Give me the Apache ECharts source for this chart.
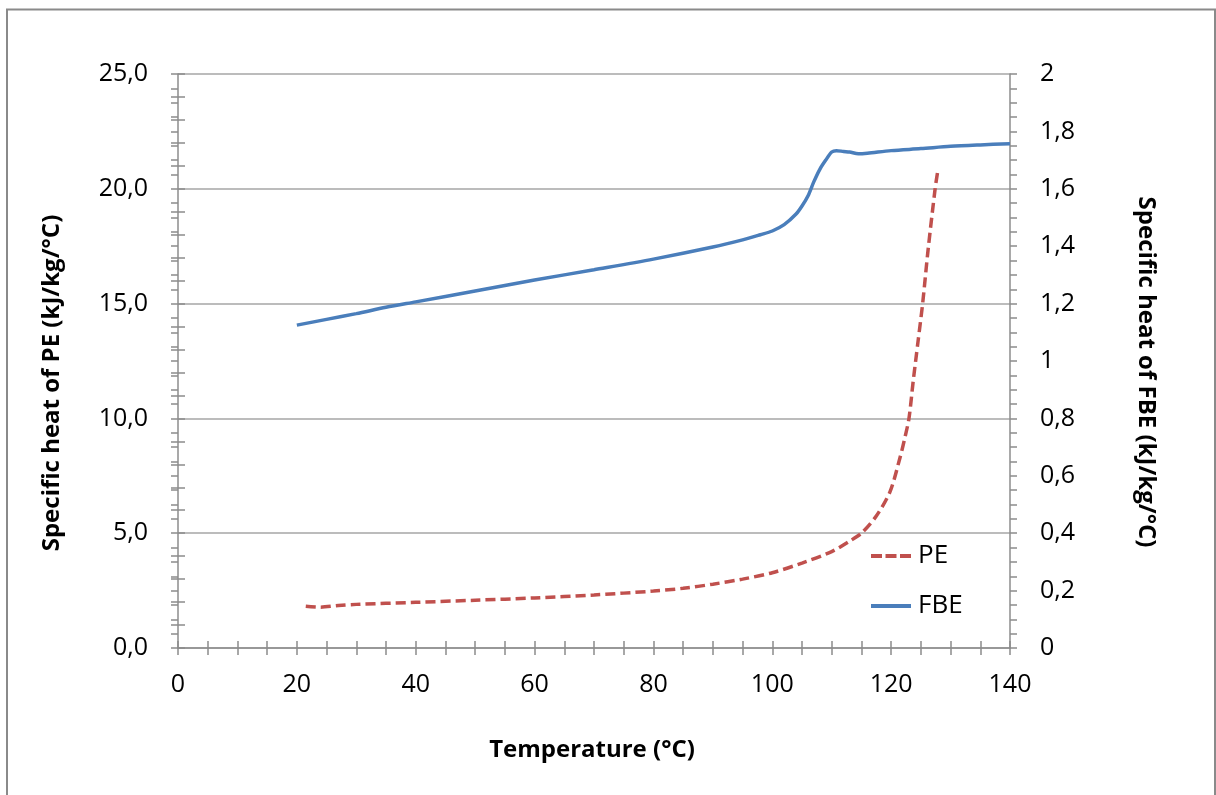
<!DOCTYPE html>
<html>
<head>
<meta charset="utf-8">
<script src="https://cdn.jsdelivr.net/npm/echarts@6/dist/echarts.min.js"></script>
<style>
html,body{margin:0;padding:0;background:#fff;}
#chart{width:1216px;height:795px;}
</style>
</head>
<body>
<div id="chart"></div>
<script>
// Data
const peTemp = [21.5, 24, 27, 30, 40, 50, 60, 70, 80, 85, 90, 95, 100, 105, 110, 113, 115, 117.5, 119.8, 121.5, 122.3, 123, 123.7, 124.5, 125.3, 126.2, 127.4, 127.8];
const peCp   = [1.82, 1.78, 1.85, 1.90, 1.99, 2.08, 2.18, 2.31, 2.48, 2.60, 2.78, 3.00, 3.28, 3.70, 4.20, 4.65, 5.00, 5.75, 6.80, 8.30, 9.15, 10.0, 11.6, 13.3, 15.0, 17.3, 20.0, 20.7];

const fbeTemp = [20, 25, 30, 35, 40, 50, 60, 70, 80, 90, 95, 98, 100, 102, 104, 105, 106, 107, 108, 109, 110, 110.8, 112, 113, 114.5, 116, 120, 125, 130, 135, 140];
const fbeCp   = [1.125, 1.145, 1.165, 1.187, 1.206, 1.244, 1.282, 1.318, 1.355, 1.397, 1.422, 1.440, 1.453, 1.475, 1.512, 1.540, 1.575, 1.625, 1.668, 1.700, 1.728, 1.733, 1.730, 1.728, 1.722, 1.724, 1.733, 1.740, 1.748, 1.753, 1.757];

const seriesNames = ['PE', 'FBE'];
const xTitle = 'Temperature (°C)';
const yLeftTitle = 'Specific heat of PE (kJ/kg/°C)';
const yRightTitle = 'Specific heat of FBE (kJ/kg/°C)';

const FONT = '"Open Sans", "Noto Sans", sans-serif';
const AXIS_COLOR = '#8c8c8c';
const PE_COLOR = '#c0504d';
const FBE_COLOR = '#4a7ebb';
const grid = {left: 178, right: 206, top: 74, bottom: 147};

function zip(a, b) { return a.map((v, i) => [v, b[i]]); }

const chart = echarts.init(document.getElementById('chart'), null, {renderer: 'canvas'});

const leftLabel = v => v.toFixed(1).replace('.', ',');
const rightLabel = v => String(+v.toFixed(1)).replace('.', ',');

const tickStyle = {color: AXIS_COLOR, width: 1.5};

chart.setOption({
  animation: false,
  backgroundColor: '#fff',
  grid: grid,
  graphic: [
    {type: 'rect', shape: {x: 7, y: 9.5, width: 1208, height: 800}, style: {fill: 'none', stroke: '#8a8a8a', lineWidth: 2}, silent: true},
    {type: 'text', x: 52, y: 383, rotation: Math.PI / 2, style: {text: yLeftTitle, font: 'bold 24px ' + FONT, fill: '#000', textAlign: 'center', textVerticalAlign: 'middle'}},
    {type: 'text', x: 1146, y: 372, rotation: -Math.PI / 2, style: {text: yRightTitle, font: 'bold 24px ' + FONT, fill: '#000', textAlign: 'center', textVerticalAlign: 'middle'}},
    {type: 'text', x: 592, y: 750, style: {text: xTitle, font: 'bold 24px ' + FONT, fill: '#000', textAlign: 'center', textVerticalAlign: 'middle'}}
  ],
  legend: {
    orient: 'vertical',
    left: 866,
    top: 538,
    itemWidth: 40,
    itemHeight: 4,
    itemGap: 24,
    data: [
      {name: seriesNames[0], icon: 'path://M0,0h11v4h-11z M14.5,0h11v4h-11z M29,0h11v4h-11z', itemStyle: {color: PE_COLOR}},
      {name: seriesNames[1], icon: 'path://M0,0h40v4h-40z', itemStyle: {color: FBE_COLOR}}
    ],
    textStyle: {fontFamily: FONT, fontSize: 26, color: '#000', padding: [0, 0, 0, 2]}
  },
  xAxis: [
    {
      type: 'value', min: 0, max: 140, interval: 20,
      axisLine: {show: true, onZero: false, lineStyle: {color: AXIS_COLOR, width: 1.5}},
      axisTick: {show: true, length: 7, lineStyle: tickStyle},
      minorTick: {show: true, splitNumber: 4, length: 7, lineStyle: tickStyle},
      splitLine: {show: false},
      axisLabel: {margin: 24, fontFamily: FONT, fontSize: 25, color: '#000'}
    },
    {
      type: 'value', min: 0, max: 140, interval: 20, position: 'bottom',
      axisLine: {show: false},
      axisTick: {show: true, inside: true, length: 7, lineStyle: tickStyle},
      minorTick: {show: true, splitNumber: 4, length: 7, lineStyle: tickStyle},
      splitLine: {show: false},
      axisLabel: {show: false}
    }
  ],
  yAxis: [
    {
      type: 'value', min: 0, max: 25, interval: 5, position: 'left',
      axisLine: {show: true, onZero: false, lineStyle: {color: AXIS_COLOR, width: 1.5}},
      axisTick: {show: true, length: 7, lineStyle: tickStyle},
      minorTick: {show: true, splitNumber: 5, length: 7, lineStyle: tickStyle},
      splitLine: {show: true, lineStyle: {color: '#a6a6a6', width: 1.5}},
      axisLabel: {margin: 30, fontFamily: FONT, fontSize: 25, color: '#000', formatter: leftLabel}
    },
    {
      type: 'value', min: 0, max: 2, interval: 0.2, position: 'right',
      axisLine: {show: true, onZero: false, lineStyle: {color: AXIS_COLOR, width: 1.5}},
      axisTick: {show: true, length: 7, lineStyle: tickStyle},
      minorTick: {show: true, splitNumber: 4, length: 7, lineStyle: tickStyle},
      splitLine: {show: false},
      axisLabel: {margin: 30, fontFamily: FONT, fontSize: 25, color: '#000', formatter: rightLabel}
    },
    {
      type: 'value', min: 0, max: 25, interval: 5, position: 'left',
      axisLine: {show: false},
      axisTick: {show: true, inside: true, length: 7, lineStyle: tickStyle},
      minorTick: {show: true, splitNumber: 5, length: 7, lineStyle: tickStyle},
      splitLine: {show: false},
      axisLabel: {show: false}
    },
    {
      type: 'value', min: 0, max: 2, interval: 0.2, position: 'right',
      axisLine: {show: false},
      axisTick: {show: true, inside: true, length: 7, lineStyle: tickStyle},
      minorTick: {show: true, splitNumber: 4, length: 7, lineStyle: tickStyle},
      splitLine: {show: false},
      axisLabel: {show: false}
    }
  ],
  series: [
    {
      name: seriesNames[0],
      type: 'line',
      xAxisIndex: 0,
      yAxisIndex: 0,
      data: zip(peTemp, peCp),
      smooth: 0.3,
      showSymbol: false,
      symbol: 'none',
      color: PE_COLOR,
      lineStyle: {color: PE_COLOR, width: 3.5, type: [10, 5]},
      z: 3
    },
    {
      name: seriesNames[1],
      type: 'line',
      xAxisIndex: 0,
      yAxisIndex: 1,
      data: zip(fbeTemp, fbeCp),
      smooth: 0.3,
      showSymbol: false,
      symbol: 'none',
      color: FBE_COLOR,
      lineStyle: {color: FBE_COLOR, width: 3.5},
      z: 4
    }
  ]
});
</script>
</body>
</html>
